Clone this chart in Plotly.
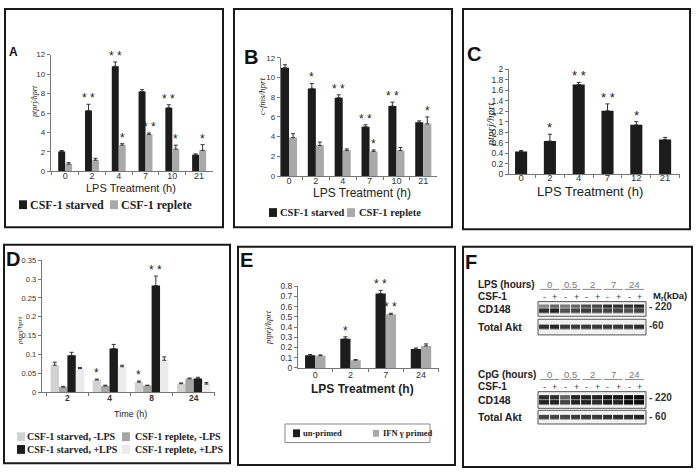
import plotly.graph_objects as go

# ---- data ----
A_cats = ['0', '2', '4', '7', '10', '21']
A_starved = [2.05, 6.25, 10.8, 8.2, 6.55, 1.7]
A_starved_err = [0.1, 0.65, 0.45, 0.2, 0.3, 0.1]
A_replete = [0.75, 1.15, 2.7, 3.8, 2.3, 2.15]
A_replete_err = [0.15, 0.2, 0.15, 0.15, 0.4, 0.6]
A_starved_sig = ['', '**', '**', '', '**', '']
A_replete_sig = ['', '', '*', '**', '*', '*']

B_cats = ['0', '2', '4', '7', '10', '21']
B_starved = [11.0, 8.9, 7.95, 5.0, 7.1, 5.45]
B_starved_err = [0.3, 0.5, 0.3, 0.2, 0.4, 0.15]
B_replete = [3.9, 3.1, 2.6, 2.5, 2.6, 5.3]
B_replete_err = [0.4, 0.35, 0.15, 0.15, 0.3, 0.7]
B_starved_sig = ['', '*', '**', '**', '**', '']
B_replete_sig = ['', '', '', '*', '', '*']

C_cats = ['0', '2', '4', '7', '12', '21']
C_vals = [0.43, 0.63, 1.71, 1.21, 0.94, 0.66]
C_err = [0.02, 0.13, 0.04, 0.13, 0.06, 0.04]
C_sig = ['', '*', '**', '**', '*', '']

D_cats = ['2', '4', '8', '24']
D_names = ['CSF-1 starved, -LPS', 'CSF-1 replete, -LPS', 'CSF-1 starved, +LPS', 'CSF-1 replete, +LPS']
D_vals = [[0.072, 0.033, 0.027, 0.023],
          [0.014, 0.017, 0.018, 0.036],
          [0.098, 0.116, 0.283, 0.037],
          [0.063, 0.068, 0.085, 0.022]]
D_err = [[0.008, 0.002, 0.003, 0.002],
         [0.002, 0.002, 0.001, 0.002],
         [0.008, 0.011, 0.025, 0.003],
         [0.003, 0.004, 0.009, 0.004]]
D_sig = [['', '*', '*', ''], ['', '', '', ''], ['', '', '**', ''], ['', '', '', '']]

E_cats = ['0', '2', '7', '24']
E_unprimed = [0.125, 0.285, 0.73, 0.185]
E_unprimed_err = [0.007, 0.02, 0.03, 0.01]
E_primed = [0.12, 0.075, 0.525, 0.215]
E_primed_err = [0.007, 0.007, 0.01, 0.02]
E_unprimed_sig = ['', '*', '**', '']
E_primed_sig = ['', '', '**', '']

# western blot (panel F): band intensity per lane, 0 = none, 1 = black
F_times = ['0', '0.5', '2', '7', '24']
F_csf = ['-', '+'] * 5
F_lanes = list(range(10))
LPS_cd148_upper = [0.45, 0.6, 0.5, 0.6, 0.7, 0.75, 0.85, 0.85, 0.85, 0.9]
LPS_cd148_lower = [0.85, 0.9, 0.7, 0.75, 0.8, 0.75, 0.75, 0.75, 0.7, 0.75]
LPS_akt = [0.85, 0.9, 0.8, 0.8, 0.8, 0.8, 0.8, 0.8, 0.8, 0.85]
CpG_cd148_upper = [0.85, 0.85, 0.6, 0.9, 0.9, 0.9, 0.95, 0.95, 1.0, 1.0]
CpG_cd148_lower = [0.9, 0.9, 0.75, 0.9, 0.9, 0.85, 0.95, 0.9, 1.0, 1.0]
CpG_akt = [0.75, 0.75, 0.75, 0.8, 0.8, 0.8, 0.85, 0.85, 0.85, 0.9]

W, H = 697, 475
BLACK = '#1c1c1c'
GRAY = '#a9a9a9'
D_colors = ['#d2d2d2', '#a6a6a6', BLACK, '#ebebeb']
SANS = 'Liberation Sans'
SERIF = 'Liberation Serif'


def px(x):
    return x / W


def py(y):
    return 1 - y / H


fig = go.Figure()


def bars(cats, vals, errs, color, name, n, width, offset):
    fig.add_trace(go.Bar(
        x=cats, y=vals, width=width, offset=offset, name=name,
        marker=dict(color=color, line=dict(width=0)),
        error_y=dict(type='data', array=errs, arrayminus=[0] * len(errs),
                     symmetric=False, color='#333', thickness=1, width=2),
        xaxis='x' + n, yaxis='y' + n, hoverinfo='skip', showlegend=False))


def stars(vals, errs, sig, n, width, offset, size=12):
    for i, (v, e, s) in enumerate(zip(vals, errs, sig)):
        if s:
            fig.add_annotation(x=i + offset + width / 2, y=v + e, xref='x' + n, yref='y' + n,
                               text=s.replace('**', '* *'), showarrow=False, yanchor='bottom',
                               yshift=-3, font=dict(family=SANS, size=size, color='#222'))


# A
wA = 0.26
bars(A_cats, A_starved, A_starved_err, BLACK, 'CSF-1 starved', '', wA, -wA)
bars(A_cats, A_replete, A_replete_err, GRAY, 'CSF-1 replete', '', wA, 0)
stars(A_starved, A_starved_err, A_starved_sig, '', wA, -wA)
stars(A_replete, A_replete_err, A_replete_sig, '', wA, 0)

# B
wB = 0.3
bars(B_cats, B_starved, B_starved_err, BLACK, 'CSF-1 starved', '2', wB, -wB)
bars(B_cats, B_replete, B_replete_err, GRAY, 'CSF-1 replete', '2', wB, 0)
stars(B_starved, B_starved_err, B_starved_sig, '2', wB, -wB)
stars(B_replete, B_replete_err, B_replete_sig, '2', wB, 0)

# C
wC = 0.42
bars(C_cats, C_vals, C_err, BLACK, 'ptprj', '3', wC, -wC / 2)
stars(C_vals, C_err, C_sig, '3', wC, -wC / 2, size=13)

# D
wD = 0.2
for k in range(4):
    bars(D_cats, D_vals[k], D_err[k], D_colors[k], D_names[k], '4', wD, (k - 2) * wD)
    stars(D_vals[k], D_err[k], D_sig[k], '4', wD, (k - 2) * wD)

# E
wE = 0.29
bars(E_cats, E_unprimed, E_unprimed_err, BLACK, 'un-primed', '5', wE, -wE)
bars(E_cats, E_primed, E_primed_err, GRAY, 'IFN γ primed', '5', wE, 0)
stars(E_unprimed, E_unprimed_err, E_unprimed_sig, '5', wE, -wE)
stars(E_primed, E_primed_err, E_primed_sig, '5', wE, 0)

# F blots
blot_scale = [[0, '#f2f2f2'], [0.5, '#7a7a7a'], [1, '#0e0e0e']]
for n, z in [('6', [LPS_cd148_lower, LPS_cd148_upper]), ('7', [LPS_akt]),
             ('8', [CpG_cd148_lower, CpG_cd148_upper]), ('9', [CpG_akt])]:
    fig.add_trace(go.Heatmap(z=z, x=F_lanes, y=list(range(len(z))), zmin=0, zmax=1,
                             colorscale=blot_scale, showscale=False, xgap=1, ygap=0.5,
                             xaxis='x' + n, yaxis='y' + n, hoverinfo='skip'))


# ---- axes ----
def xcat(x0, x1, rng, n, size=9, weight='normal', standoff=-4):
    return dict(domain=[px(x0), px(x1)], range=rng, type='category', anchor='y' + n,
                showline=True, linecolor='#777', linewidth=1, ticks='outside',
                tickson='boundaries', ticklen=3, tickcolor='#777', showgrid=False,
                zeroline=False, fixedrange=True, ticklabelstandoff=standoff,
                tickfont=dict(family=SANS, size=size, color='#333', weight=weight))


def ylin(ytop, ybot, rng, dtick, n, size=8):
    return dict(domain=[py(ybot), py(ytop)], range=rng, dtick=dtick, anchor='x' + n,
                showline=True, linecolor='#777', linewidth=1, ticks='outside', ticklen=3,
                tickcolor='#777', showgrid=False, zeroline=False, fixedrange=True,
                tickfont=dict(family=SANS, size=size, color='#333'))


layout_axes = dict(
    xaxis=xcat(50.7, 212.5, [-0.54, 5.5], ''), yaxis=ylin(50.7, 170, [0, 12], 2, ''),
    xaxis2=xcat(280.7, 436.7, [-0.31, 5.5], '2'), yaxis2=ylin(54, 174.7, [0, 12], 2, '2'),
    xaxis3=xcat(509, 679.5, [-0.42, 5.5], '3', size=9.5, standoff=-5),
    yaxis3=ylin(65.7, 172.7, [0, 2], 0.2, '3', size=8.5),
    xaxis4=xcat(41.7, 214.8, [-0.61, 3.5], '4', size=8.5, weight='bold', standoff=-3),
    yaxis4=ylin(260.7, 395.7, [0, 0.35], 0.05, '4', size=7.5),
    xaxis5=xcat(298, 438.6, [-0.49, 3.5], '5', standoff=-2),
    yaxis5=ylin(287.3, 370.7, [0, 0.8], 0.1, '5', size=8.5),
)
blot_rows = {'6': (303, 318, [-1.15, 2.15]), '7': (321, 337, [-1.6, 1.6]),
             '8': (395, 412, [-1.2, 2.2]), '9': (414, 428, [-1.5, 1.5])}
for n, (t, b, yr) in blot_rows.items():
    layout_axes['xaxis' + n] = dict(domain=[px(538), px(646)], range=[-0.6, 9.6], visible=False,
                                     anchor='y' + n, fixedrange=True)
    layout_axes['yaxis' + n] = dict(domain=[py(b), py(t)], range=yr, visible=False,
                                     anchor='x' + n, fixedrange=True)

fig.update_layout(
    width=W, height=H, margin=dict(l=0, r=0, t=0, b=0),
    paper_bgcolor='white', plot_bgcolor='white',
    barmode='overlay', showlegend=False,
    **layout_axes,
)

# panel borders
for x0, y0, x1, y1 in [(5, 4, 223, 227), (234, 4, 452, 227), (463, 4, 690, 229),
                       (4, 245, 230, 468), (238, 247, 455, 470), (463, 247, 692, 472)]:
    fig.add_shape(type='rect', xref='paper', yref='paper', x0=px(x0), x1=px(x1),
                  y0=py(y0), y1=py(y1), line=dict(color='#1a1a1a', width=2))

# blot frames
for n in blot_rows:
    fig.add_shape(type='rect', xref='x%s domain' % n, yref='y%s domain' % n, x0=0, x1=1, y0=0, y1=1,
                  fillcolor='#f2f2f2', line=dict(color='#555', width=1), layer='below')


def note(x, y, text, size=10, family=SANS, color='#222', weight='normal', style='normal',
         xanchor='center', angle=0, xref='paper'):
    fig.add_annotation(x=x if xref != 'paper' else px(x), y=py(y), xref=xref, yref='paper',
                       text=text, showarrow=False, xanchor=xanchor, yanchor='middle',
                       textangle=angle,
                       font=dict(family=family, size=size, color=color, weight=weight, style=style))


# legends (key square + serif label)
def key(x, y, color, text, size, sq=8, gap=1):
    fig.add_shape(type='rect', xref='paper', yref='paper', x0=px(x), x1=px(x + sq),
                  y0=py(y + sq / 2 + 0.5), y1=py(y - sq / 2 - 0.5), fillcolor=color,
                  line=dict(width=0))
    note(x + sq + gap, y, text, size=size, family=SERIF, weight='bold', xanchor='left')


key(19, 204, BLACK, 'CSF-1 starved', 12)
key(110, 204, GRAY, 'CSF-1 replete', 12)
key(269, 212, BLACK, 'CSF-1 starved', 10.5)
key(347, 212, GRAY, 'CSF-1 replete', 10.5, gap=2)
for k, (kx, ky) in enumerate([(17, 441), (122, 441), (17, 454), (122, 454)]):
    key(kx, ky, D_colors[k], D_names[k], 10, gap=0 if k % 2 == 0 else 3)
fig.add_shape(type='rect', xref='paper', yref='paper', x0=px(285), x1=px(430),
              y0=py(447), y1=py(428), line=dict(color='#888', width=1))
key(293, 437.5, BLACK, 'un-primed', 8.5, sq=7)
key(373, 437.5, GRAY, 'IFN γ primed', 8.5, sq=6, gap=2)

# panel letters
note(14, 48, 'A', size=12, weight='bold', color='#111')
for letter, (x, y) in {'B': (251, 53), 'C': (474, 50), 'D': (13, 259),
                       'E': (246, 260), 'F': (471, 263)}.items():
    note(x, y, letter, size=20, weight='bold', color='#111')

# axis titles
note(130.5, 187, 'LPS Treatment (h)', size=11)
note(362, 192, 'LPS Treatment (h)', size=12)
note(590, 191, 'LPS Treatment (h)', size=13)
note(130, 418, 'Time (h)', size=9)
note(362.5, 392, 'LPS Treatment (h)', size=12, weight='bold')
note(35, 99, 'ptprj/hprt', size=8, family=SERIF, style='italic', angle=-90)
note(262, 94, 'c-fms/hprt', size=9, family=SERIF, style='italic', angle=-90)
note(490, 122, 'ptprj/hprt', size=11, family=SERIF, style='italic', angle=-90)
note(20, 333, 'ptprj/hprt', size=7, family=SERIF, style='italic', angle=-90)
note(268, 330, 'ptprj/hprt', size=8.5, family=SERIF, style='italic', angle=-90)

# panel F labels
for base, title in [(285, 'LPS (hours)'), (377, 'CpG (hours)')]:
    note(476, base, title, size=10, weight='bold', xanchor='left')
    note(476, base + 13, 'CSF-1', size=10, weight='bold', xanchor='left')
    for k, t in enumerate(F_times):
        note(2 * k + 0.5, base, t, size=9.5, color='#777', xref='x6')
        fig.add_shape(type='line', xref='x6', yref='paper', x0=2 * k - 0.4, x1=2 * k + 1.4,
                      y0=py(base + 5.5), y1=py(base + 5.5), line=dict(color='#888', width=1))
    for lane, s in zip(F_lanes, F_csf):
        note(lane, base + 13.5, s, size=9, color='#444', xref='x6')
note(651, 297, 'M<sub>r</sub>(kDa)', size=9.5, weight='bold', xanchor='left')
for y, lbl in [(308, '- 220'), (327, '-60'), (401, '- 220'), (420, '- 60')]:
    note(647, y, lbl, size=10, weight='bold', xanchor='left', color='#333')
for y, lbl in [(311, 'CD148'), (329, 'Total Akt'), (403, 'CD148'), (421, 'Total Akt')]:
    note(476, y, lbl, size=10.5, weight='bold', xanchor='left')

fig.write_html('out.html', config={'displayModeBar': False},
               post_script="document.body.style.margin='0';document.body.style.padding='0';")
